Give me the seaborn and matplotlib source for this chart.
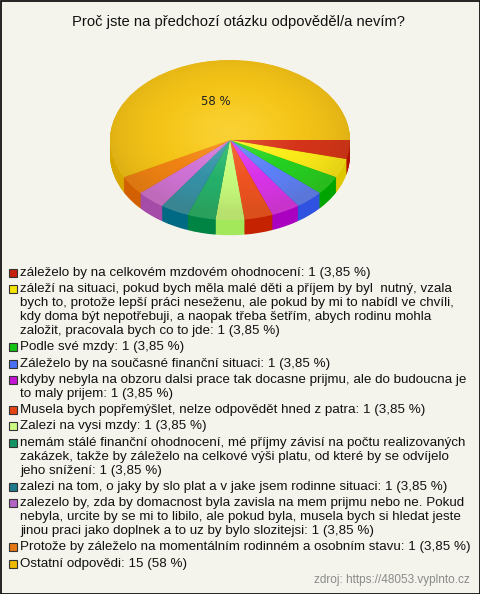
import numpy as np
import matplotlib
matplotlib.use('Agg')
import matplotlib.pyplot as plt
import seaborn as sns
from matplotlib.patches import Rectangle, Circle

sns.set_style("white")
plt.rcParams['font.family'] = ['Liberation Sans', 'DejaVu Sans']

# --- data ---
odpovedi = [
    "záleželo by na celkovém mzdovém ohodnocení",
    "záleží na situaci, pokud bych měla malé děti a příjem by byl  nutný, vzala\n"
    "bych to, protože lepší práci neseženu, ale pokud by mi to nabídl ve chvíli,\n"
    "kdy doma být nepotřebuji, a naopak třeba šetřím, abych rodinu mohla\n"
    "založit, pracovala bych co to jde",
    "Podle své mzdy",
    "Záleželo by na současné finanční situaci",
    "kdyby nebyla na obzoru dalsi prace tak docasne prijmu, ale do budoucna je\n"
    "to maly prijem",
    "Musela bych popřemýšlet, nelze odpovědět hned z patra",
    "Zalezi na vysi mzdy",
    "nemám stálé finanční ohodnocení, mé příjmy závisí na počtu realizovaných\n"
    "zakázek, takže by záleželo na celkové výši platu, od které by se odvíjelo\n"
    "jeho snížení",
    "zalezi na tom, o jaky by slo plat a v jake jsem rodinne situaci",
    "zalezelo by, zda by domacnost byla zavisla na mem prijmu nebo ne. Pokud\n"
    "nebyla, urcite by se mi to libilo, ale pokud byla, musela bych si hledat jeste\n"
    "jinou praci jako doplnek a to uz by bylo slozitejsi",
    "Protože by záleželo na momentálním rodinném a osobním stavu",
    "Ostatní odpovědi",
]
pocty = [1, 1, 1, 1, 1, 1, 1, 1, 1, 1, 1, 15]
procenta = ["3,85 %"] * 11 + ["58 %"]

barvy_top = ['#d8341a', '#fff01a', '#22d422', '#5c82ff', '#dc34f0', '#f25422',
             '#c8ff80', '#22b46e', '#3494ac', '#d274dc', '#f48414', '#f8c818']
barvy_bok = ['#b01200', '#e0c800', '#00a400', '#3052e0', '#aa00c0', '#c42200',
             '#a2e85a', '#008444', '#006a84', '#a44ca8', '#d26000', '#d8a800']
barvy_leg = ['#c4200c', '#f4e400', '#14c414', '#4a70f4', '#c414d4', '#e44414',
             '#ccfc84', '#149464', '#207c8c', '#b464c4', '#e47814', '#ecb800']

bg = '#f4f4ec'
fig = plt.figure(figsize=(4.8, 5.94), dpi=100, facecolor=bg)

# --- 3D pie ---
ax = fig.add_axes([110 / 480, 1 - 240 / 594, 240 / 480, 185 / 594])
hloubka = 0.19
for k in np.linspace(hloubka, 0.005, 20):
    ax.pie(pocty, colors=barvy_bok, startangle=0, counterclock=False,
           center=(0, -k), wedgeprops=dict(linewidth=0))


def popisek(p):
    return f"{p:.0f} %" if p > 10 else ""


ax.pie(pocty, colors=barvy_top, startangle=0, counterclock=False,
       autopct=popisek, pctdistance=0.5, wedgeprops=dict(linewidth=0),
       textprops=dict(fontsize=8.5, color='#222222', family='DejaVu Sans', zorder=5))

# radial shading on the top surface (light centre, darker rim)
g = np.linspace(-1, 1, 300)
gx, gy = np.meshgrid(g, g)
r = np.sqrt(gx ** 2 + (gy + 0.1) ** 2)
svetlo = np.zeros((300, 300, 4))
svetlo[..., :3] = (1.0, 1.0, 0.75)
svetlo[..., 3] = 0.18 * np.clip(1 - r / 0.6, 0, 1)
stin = np.zeros((300, 300, 4))
stin[..., :3] = (0.35, 0.2, 0.0)
stin[..., 3] = 0.15 * np.clip(r, 0, 1) ** 3
kruh = Circle((0, 0), 1, transform=ax.transData)
for img in (stin, svetlo):
    im = ax.imshow(img, extent=(-1, 1, -1, 1), zorder=3, interpolation='bilinear')
    im.set_clip_path(kruh)

ax.set_aspect('auto')
ax.set_xlim(-1, 1)
ax.set_ylim(-1.25, 1.0625)
ax.axis('off')

# --- overlay in pixel coordinates (title, legend, source) ---
ov = fig.add_axes([0, 0, 1, 1], facecolor='none')
ov.set_xlim(0, 480)
ov.set_ylim(594, 0)
ov.axis('off')
ov.add_patch(Rectangle((0.5, 0.5), 479, 593, fill=False, edgecolor='black', linewidth=1.2))

ov.text(238, 22, "Proč jste na předchozí otázku odpověděl/a nevím?",
        ha='center', va='center', fontsize=10.6, color='#111111')

y = 273
radek = 13.9
mezera = 16.3
for text, n, pct, c in zip(odpovedi, pocty, procenta, barvy_leg):
    ov.add_patch(Rectangle((9, y - 4), 8, 8, facecolor=c, edgecolor='#333333', linewidth=0.8))
    s = f"{text}: {n} ({pct})"
    lines = s.split("\n")
    for i, line in enumerate(lines):
        ov.text(20, y + i * radek, line, ha='left', va='center', fontsize=9.6, color='#111111')
    y += (len(lines) - 1) * radek + mezera

ov.text(470, 580, "zdroj: https://48053.vyplnto.cz", ha='right', va='center',
        fontsize=8.5, color='#8a8a8a')

fig.savefig('out.png', dpi=100, facecolor=bg)
